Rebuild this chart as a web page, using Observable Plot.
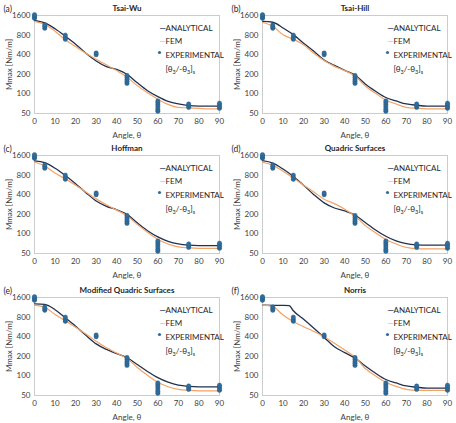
<!DOCTYPE html>
<html>
<head>
<meta charset="utf-8">
<script src="https://cdn.jsdelivr.net/npm/d3@7"></script>
<script src="https://cdn.jsdelivr.net/npm/@observablehq/plot@0.6"></script>
<style>
  body { margin: 0; background: #fff; }
  #grid { position: relative; width: 456px; height: 423px; overflow: hidden; }
  .panel { position: absolute; width: 228px; height: 141px; }
  .panel svg { overflow: visible; }
</style>
</head>
<body>
<div id="grid"></div>
<script>
// Ply angle θ (degrees) for the model curves
const angles = [0, 5, 10, 15, 20, 25, 30, 35, 40, 45, 50, 55, 60, 65, 70, 75, 80, 85, 90];
const norrisAngles = [0, 5, 10, 13, 15, 20, 25, 30, 35, 40, 45, 50, 55, 60, 65, 70, 75, 80, 85, 90];

// Axis ticks
const xTicks = [0, 10, 20, 30, 40, 50, 60, 70, 80, 90];
const yTicks = [50, 100, 200, 400, 800, 1600];

// Measured failure moments (same test set in every panel)
const expAngle = [0, 0, 0, 0, 5, 5, 5, 15, 15, 15, 30, 30, 45, 45, 45, 45, 45,
                  60, 60, 60, 60, 60, 60, 75, 75, 75, 90, 90, 90, 90];
const expMmax  = [1450, 1520, 1580, 1650, 1020, 1080, 1150, 690, 740, 800, 400, 425,
                  145, 155, 165, 178, 192, 54, 58, 63, 68, 73, 78, 62, 66, 70, 60, 64, 68, 72];

// Mmax [Nm/m] per failure criterion: analytical and FEM
const tsaiWuAnalytical = [1340, 1230, 1000, 770, 580, 420, 320, 262, 238, 200, 148, 112, 91, 77, 70, 66, 65, 65, 65];
const tsaiWuFem        = [1300, 1170, 920, 677, 533, 420, 340, 280, 228, 181, 134, 104, 83, 69, 62, 61, 60, 59, 59];

const tsaiHillAnalytical = [1300, 1260, 1030, 813, 600, 450, 330, 275, 230, 195, 142, 110, 88, 78, 70, 67, 65, 65, 65];
const tsaiHillFem        = [1260, 1090, 813, 690, 570, 420, 325, 265, 228, 188, 132, 102, 80, 70, 62, 60, 59, 59, 59];

const hoffmanAnalytical = [1320, 1240, 1020, 790, 590, 430, 320, 265, 235, 200, 148, 112, 90, 77, 70, 67, 66, 66, 66];
const hoffmanFem        = [1270, 1100, 860, 700, 560, 440, 345, 280, 232, 190, 140, 106, 82, 70, 63, 61, 60, 60, 60];

const quadricAnalytical = [1330, 1220, 990, 760, 560, 400, 300, 250, 225, 195, 150, 115, 92, 78, 71, 68, 67, 67, 67];
const quadricFem        = [1260, 1130, 920, 720, 560, 440, 340, 292, 240, 188, 134, 104, 82, 70, 62, 59, 59, 59, 59];

const modQuadricAnalytical = [1280, 1250, 1040, 780, 580, 420, 310, 255, 220, 190, 150, 117, 94, 80, 72, 69, 68, 68, 68];
const modQuadricFem        = [1220, 1130, 880, 700, 560, 440, 340, 270, 225, 185, 135, 102, 80, 68, 62, 60, 59, 59, 59];

const norrisAnalytical = [1220, 1215, 1210, 1200, 1000, 740, 540, 390, 280, 228, 188, 142, 110, 88, 78, 70, 67, 65, 65, 65];
const norrisFem        = [1220, 1160, 860, 680, 570, 480, 400, 316, 250, 195, 130, 100, 80, 69, 62, 60, 60, 60, 60];

const tags   = ["(a)", "(b)", "(c)", "(d)", "(e)", "(f)"];
const titles = ["Tsai-Wu", "Tsai-Hill", "Hoffman", "Quadric Surfaces", "Modified Quadric Surfaces", "Norris"];
const seriesNames = ["ANALYTICAL", "FEM", "EXPERIMENTAL"];
const layupLabel = "[θ3/-θ3]s";

const panels = [
  {analytical: tsaiWuAnalytical, analyticalAngles: angles, fem: tsaiWuFem},
  {analytical: tsaiHillAnalytical, analyticalAngles: angles, fem: tsaiHillFem},
  {analytical: hoffmanAnalytical, analyticalAngles: angles, fem: hoffmanFem},
  {analytical: quadricAnalytical, analyticalAngles: angles, fem: quadricFem},
  {analytical: modQuadricAnalytical, analyticalAngles: angles, fem: modQuadricFem},
  {analytical: norrisAnalytical, analyticalAngles: norrisAngles, fem: norrisFem}
];

const FONT = "Lato, 'Open Sans', sans-serif";
const C_AN = "#22304d";
const C_FEM = "#f3a366";
const C_EXP = "#2f6d9d";
const rowTops = [0, 140, 282];

const experimental = expAngle.map((a, i) => ({angle: a, m: expMmax[i]}));

function drawPanel(p, i) {
  const an = p.analyticalAngles.map((a, j) => ({angle: a, m: p.analytical[j]}));
  const fem = angles.map((a, j) => ({angle: a, m: p.fem[j]}));
  const legX = 130;
  const chart = Plot.plot({
    width: 228,
    height: 141,
    marginLeft: 34,
    marginRight: 9,
    marginTop: 15,
    marginBottom: 28,
    style: {fontFamily: FONT, fontSize: "8px", color: "#404040", background: "transparent", overflow: "visible"},
    x: {domain: [0, 90], ticks: xTicks, tickSize: 0, tickPadding: 5, label: "Angle, θ", labelArrow: false,
        labelAnchor: "center", labelOffset: 24},
    y: {type: "log", base: 2, domain: [50, 1600], ticks: yTicks, tickFormat: d => String(d), tickSize: 0, tickPadding: 4,
        label: "Mmax [Nm/m]", labelArrow: false, labelAnchor: "center", labelOffset: 28},
    marks: [
      Plot.frame({stroke: "#cccccc"}),
      Plot.line(an, {x: "angle", y: "m", stroke: C_AN, strokeWidth: 1.3, curve: "monotone-x"}),
      Plot.line(fem, {x: "angle", y: "m", stroke: C_FEM, strokeWidth: 1.2, curve: "monotone-x"}),
      Plot.dot(experimental, {x: "angle", y: "m", r: 2.2, fill: C_EXP, stroke: "#25587f", strokeWidth: 0.4}),
      // legend
      Plot.text(["—"], {frameAnchor: "top-left", dx: legX - 5, dy: 10, fill: C_AN, fontSize: 8, fontWeight: "bold"}),
      Plot.text([seriesNames[0]], {frameAnchor: "top-left", dx: legX + 1, dy: 10, textAnchor: "start", fill: "#262626"}),
      Plot.text(["—"], {frameAnchor: "top-left", dx: legX - 5, dy: 23, fill: C_FEM, fontSize: 8}),
      Plot.text([seriesNames[1]], {frameAnchor: "top-left", dx: legX + 1, dy: 23, textAnchor: "start", fill: "#262626"}),
      Plot.dot([0], {frameAnchor: "top-left", dx: legX - 5, dy: 37, r: 1.6, fill: C_EXP}),
      Plot.text([seriesNames[2]], {frameAnchor: "top-left", dx: legX + 1, dy: 37, textAnchor: "start", fill: "#262626"}),
      Plot.text([layupLabel], {frameAnchor: "top-left", dx: legX + 1, dy: 51, textAnchor: "start", fill: "#262626"}),
      // panel heading
      Plot.text([titles[i]], {frameAnchor: "top", dy: -10, fontWeight: "bold", fill: "#262626"}),
      Plot.text([tags[i]], {frameAnchor: "top-left", dx: -31, dy: -10, textAnchor: "start", fill: "#262626", fontSize: 8.5})
    ]
  });

  // write the lay-up label with subscripts
  d3.select(chart).selectAll("text").filter(function () { return this.textContent === layupLabel; })
    .each(function () {
      const t = d3.select(this);
      t.text(null);
      const parts = [["[θ", false], ["3", true], ["/-θ", false], ["3", true], ["]", false], ["s", true]];
      parts.forEach(([s, sub]) => {
        t.append("tspan").attr("font-size", sub ? "5.5px" : null).attr("baseline-shift", sub ? "-25%" : null).text(s);
      });
    });

  const div = document.createElement("div");
  div.className = "panel";
  div.style.left = (i % 2) * 228 + "px";
  div.style.top = rowTops[Math.floor(i / 2)] + "px";
  div.appendChild(chart);
  document.getElementById("grid").appendChild(div);
}

panels.forEach(drawPanel);
</script>
</body>
</html>
